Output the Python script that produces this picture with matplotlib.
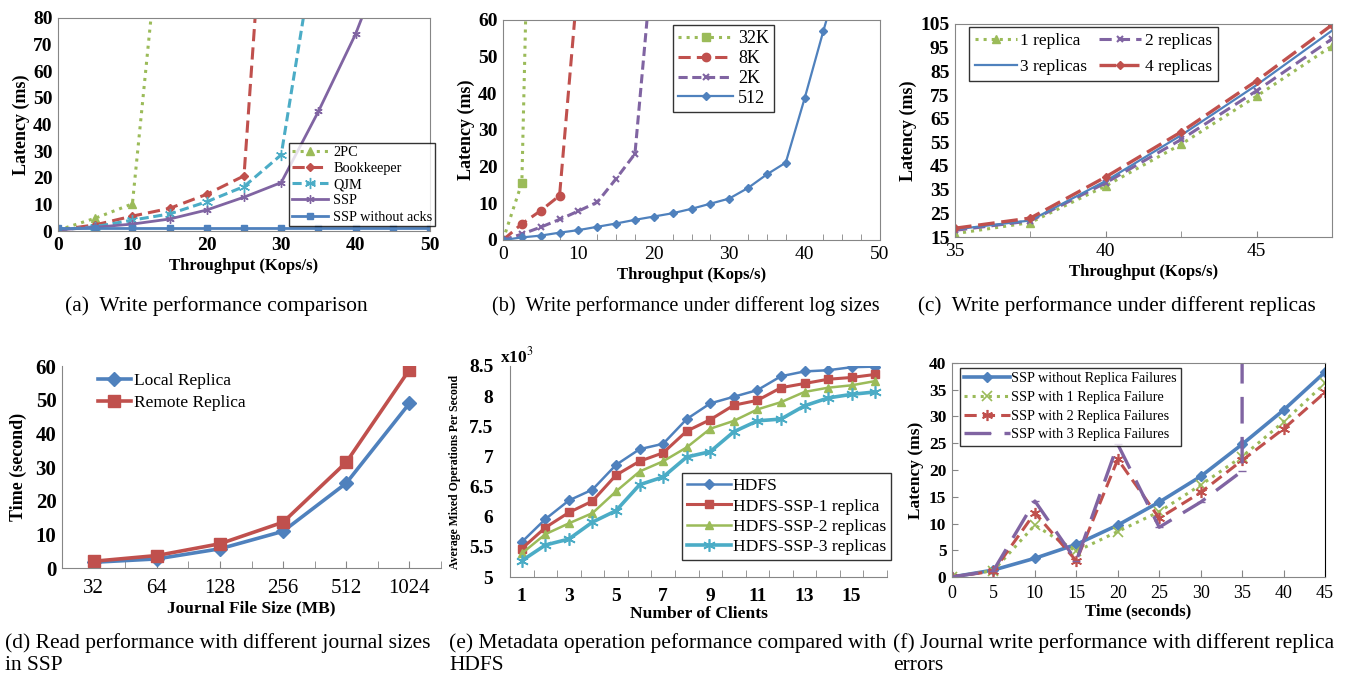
import matplotlib
matplotlib.use('Agg')
import matplotlib.pyplot as plt
import numpy as np

plt.rcParams['font.family'] = ['Liberation Serif', 'DejaVu Serif']
plt.rcParams['mathtext.fontset'] = 'stix'

W, H = 1350, 678
BLUE = '#4F81BD'
RED = '#C0504D'
GREEN = '#9BBB59'
PURPLE = '#8064A2'
CYAN = '#4BACC6'
GRAY = '#868686'
AST = (6, 2, 0)  # asterisk marker

# ---- (a) write performance comparison
a_x = [0, 5, 10, 15, 20, 25, 30, 35, 40, 45, 50]
a_2pc = [0.3, 4.8, 10.2, 150]
a_bookkeeper = [0.4, 2.3, 5.6, 8.5, 13.8, 20.7, 220]
a_qjm = [0.4, 1.6, 4.1, 6.4, 11.0, 16.7, 28.6, 115]
a_ssp = [0.4, 1.4, 2.6, 4.5, 7.9, 12.7, 18.2, 44.9, 74.0, 110]
a_noack = [1.0, 1.0, 1.0, 1.0, 1.0, 1.0, 1.0, 1.0, 1.0, 1.0, 1.0]

# ---- (b) different log sizes
b_x = [0, 2.5, 5, 7.5, 10, 12.5, 15, 17.5, 20, 22.5, 25, 27.5, 30, 32.5, 35, 37.5, 40, 42.5, 45]
b_32k = [0, 15.6, 238]
b_8k = [0, 4.4, 8.0, 12.1, 72]
b_2k = [0, 1.6, 3.5, 5.6, 7.9, 10.3, 16.7, 23.5, 80.5]
b_512 = [0, 0.7, 1.2, 2.0, 2.7, 3.6, 4.5, 5.5, 6.4, 7.3, 8.5, 9.9, 11.3, 14.2, 17.9, 21.1, 38.6, 57.1, 75]

# ---- (c) different replicas
c_x = [35, 37.5, 40, 42.5, 45, 47.5]
c_r1 = [16.4, 21.1, 36.6, 54.2, 74.5, 95.7]
c_r2 = [17.8, 21.8, 37.9, 56.2, 76.8, 98.7]
c_r3 = [18.2, 22.0, 38.7, 58.0, 79.2, 102.2]
c_r4 = [18.7, 23.0, 40.4, 59.4, 81.0, 104.6]

# ---- (d) journal sizes
d_sizes = ['32', '64', '128', '256', '512', '1024']
d_local = [1.7, 2.7, 5.7, 10.9, 25.2, 48.9]
d_remote = [2.0, 3.7, 7.2, 13.6, 31.4, 58.9]

# ---- (e) metadata ops (x10^3)
e_clients = list(range(1, 17))
e_hdfs = [5.58, 5.96, 6.27, 6.45, 6.86, 7.12, 7.21, 7.62, 7.88, 7.99, 8.10, 8.33, 8.41, 8.43, 8.48, 8.49]
e_ssp1 = [5.47, 5.82, 6.07, 6.26, 6.69, 6.92, 7.06, 7.42, 7.61, 7.85, 7.93, 8.14, 8.21, 8.28, 8.31, 8.36]
e_ssp2 = [5.39, 5.71, 5.89, 6.06, 6.42, 6.75, 6.92, 7.15, 7.46, 7.59, 7.78, 7.90, 8.07, 8.14, 8.18, 8.25]
e_ssp3 = [5.27, 5.53, 5.63, 5.91, 6.10, 6.53, 6.66, 6.99, 7.08, 7.41, 7.59, 7.62, 7.84, 7.97, 8.03, 8.07]

# ---- (f) replica errors
f_t = [0, 5, 10, 15, 20, 25, 30, 35, 40, 45]
f_none = [0, 1.3, 3.5, 6.1, 9.7, 14.0, 18.8, 24.8, 31.2, 38.3]
f_one = [0, 1.2, 9.7, 4.8, 8.5, 12.2, 17.2, 22.5, 29.0, 36.2]
f_two = [0, 1.1, 12.0, 3.0, 22.0, 11.0, 15.8, 21.8, 27.7, 34.5]
f_three_t = [0, 5, 10, 15, 20, 25, 30, 35, 35]
f_three = [0, 1.2, 14.2, 3.0, 24.8, 9.3, 14.0, 19.8, 200]

fig = plt.figure(figsize=(13.5, 6.78), dpi=100)


def box(x0, x1, yt, yb):
    # pixel box -> axes
    return fig.add_axes([x0 / W, 1 - yb / H, (x1 - x0) / W, (yb - yt) / H])


def anchor(ax, x, y):
    p = ax.get_position()
    return ((x / W - p.x0) / p.width, ((1 - y / H) - p.y0) / p.height)


def style(ax, spines=('left', 'bottom', 'top', 'right'), col=GRAY, size=14):
    for s in ax.spines:
        ax.spines[s].set_visible(s in spines)
        ax.spines[s].set_color(col)
    ax.tick_params(direction='in', length=4, color=GRAY, labelsize=size, pad=4)
    for lab in ax.get_xticklabels() + ax.get_yticklabels():
        lab.set_fontweight('bold')


def boxed(lg):
    lg.get_frame().set_edgecolor('black')
    lg.get_frame().set_linewidth(1.0)


# ================= (a)
ax = box(58, 430, 18, 231)
ax.plot(a_x[:4], a_2pc, ':', color=GREEN, lw=2.2, marker='^', ms=6)
ax.plot(a_x[:7], a_bookkeeper, '--', color=RED, lw=2.2, marker='D', ms=4, dashes=(4, 2))
ax.plot(a_x[:8], a_qjm, '--', color=CYAN, lw=2.2, marker=AST, ms=8, dashes=(3, 1.5))
ax.plot(a_x[:10], a_ssp, '-', color=PURPLE, lw=2.0, marker=AST, ms=6)
ax.plot(a_x, a_noack, '-', color=BLUE, lw=2.0, marker='s', ms=4)
ax.set_xlim(0, 50)
ax.set_ylim(0, 80)
ax.set_xticks(range(0, 51, 10))
ax.set_yticks(range(0, 81, 10))
style(ax)
ax.tick_params(length=0)
ax.set_xlabel('Throughput (Kops/s)', fontsize=12, fontweight='bold', labelpad=3)
ax.set_ylabel('Latency (ms)', fontsize=13, fontweight='bold', labelpad=2)
lg = ax.legend(['2PC', 'Bookkeeper', 'QJM', 'SSP', 'SSP without acks'], loc='upper left',
               bbox_to_anchor=anchor(ax, 289, 143), fontsize=10.3, frameon=True, fancybox=False,
               borderpad=0.2, labelspacing=0.22, handlelength=2.5, handletextpad=0.4, borderaxespad=0)
boxed(lg)

# ================= (b)
ax = box(503, 880, 20, 240)
ax.plot(b_x[:3], b_32k, ':', color=GREEN, lw=2.2, marker='s', ms=6)
ax.plot(b_x[:5], b_8k, '--', color=RED, lw=2.2, marker='o', ms=6, dashes=(4, 2))
ax.plot(b_x[:9], b_2k, '--', color=PURPLE, lw=2.2, marker='x', ms=5, mew=1.5, dashes=(3, 1.5))
ax.plot(b_x, b_512, '-', color=BLUE, lw=1.6, marker='D', ms=4)
ax.set_xlim(0, 50)
ax.set_ylim(0, 60)
ax.set_xticks(range(0, 51, 10))
ax.set_xticks(np.arange(0, 50.1, 2.5), minor=True)
ax.set_yticks(range(0, 61, 10))
style(ax)
for lab in ax.get_xticklabels():
    lab.set_fontweight('normal')
ax.tick_params(axis='y', length=0)
ax.tick_params(axis='x', which='major', length=0)
ax.tick_params(axis='x', which='minor', direction='in', length=4, color=GRAY)
ax.set_xlabel('Throughput (Kops/s)', fontsize=12, fontweight='bold', labelpad=3)
ax.set_ylabel('Latency (ms)', fontsize=13, fontweight='bold', labelpad=2)
lg = ax.legend(['32K', '8K', '2K', '512'], loc='upper left',
               bbox_to_anchor=anchor(ax, 673, 25), fontsize=13, frameon=True, fancybox=False,
               borderpad=0.3, labelspacing=0.15, handlelength=3.0, handletextpad=0.3, borderaxespad=0)
boxed(lg)

# ================= (c)
ax = box(955, 1332, 24, 237)
ax.plot(c_x, c_r1, ':', color=GREEN, lw=2.2, marker='^', ms=6, label='1 replica')
ax.plot(c_x, c_r2, '--', color=PURPLE, lw=2.2, marker='x', ms=5, mew=1.5, dashes=(4, 2), label='2 replicas')
ax.plot(c_x, c_r3, '-', color=BLUE, lw=1.6, label='3 replicas')
ax.plot(c_x, c_r4, '--', color=RED, lw=2.4, marker='D', ms=4, dashes=(5, 2), label='4 replicas')
ax.set_xlim(35, 47.5)
ax.set_ylim(15, 105)
ax.set_xticks([35, 40, 45])
ax.set_xticks(c_x, minor=True)
ax.set_yticks(range(15, 106, 10))
style(ax)
for lab in ax.get_xticklabels():
    lab.set_fontweight('normal')
ax.tick_params(axis='y', length=0)
ax.tick_params(axis='x', which='major', length=4)
ax.tick_params(axis='x', which='minor', direction='in', length=4, color=GRAY)
ax.set_xlabel('Throughput (Kops/s)', fontsize=12, fontweight='bold', labelpad=3)
ax.set_ylabel('Latency (ms)', fontsize=13, fontweight='bold', labelpad=2)
h, l = ax.get_legend_handles_labels()
lg = ax.legend([h[0], h[2], h[1], h[3]], [l[0], l[2], l[1], l[3]], ncol=2, loc='upper left',
               bbox_to_anchor=anchor(ax, 969, 27), fontsize=12.5, frameon=True, fancybox=False,
               borderpad=0.35, labelspacing=0.55, handlelength=2.4, handletextpad=0.2,
               columnspacing=0.7, borderaxespad=0)
boxed(lg)

# ================= (d)
ax = box(62, 441, 366, 568)
pos = np.arange(len(d_sizes))
ax.plot(pos, d_local, '-', color=BLUE, lw=2.6, marker='D', ms=7, label='Local Replica')
ax.plot(pos, d_remote, '-', color=RED, lw=2.6, marker='s', ms=8, label='Remote Replica')
ax.set_xlim(-0.5, 5.5)
ax.set_ylim(0, 60)
ax.set_xticks(pos)
ax.set_xticklabels(d_sizes)
ax.set_xticks(np.arange(-0.5, 5.6, 1), minor=True)
ax.set_yticks(range(0, 61, 10))
style(ax, spines=('left', 'bottom'), size=15)
ax.tick_params(axis='y', length=0)
ax.tick_params(axis='x', which='both', direction='in', length=5, color=GRAY, pad=8)
for lab in ax.get_xticklabels():
    lab.set_fontweight('normal')
ax.set_xlabel('Journal File Size (MB)', fontsize=12.5, fontweight='bold', labelpad=2)
ax.set_ylabel('Time (second)', fontsize=13, fontweight='bold', labelpad=6)
ax.legend(loc='upper left', bbox_to_anchor=anchor(ax, 98, 373), fontsize=12.5, frameon=False,
          borderpad=0, labelspacing=0.35, handlelength=1.9, handletextpad=0.2, borderaxespad=0)

# ================= (e)
ax = box(510, 887, 366, 577)
ax.plot(e_clients, e_hdfs, '-', color=BLUE, lw=1.8, marker='D', ms=5, label='HDFS')
ax.plot(e_clients, e_ssp1, '-', color=RED, lw=2.2, marker='s', ms=6, label='HDFS-SSP-1 replica')
ax.plot(e_clients, e_ssp2, '-', color=GREEN, lw=1.8, marker='^', ms=6, label='HDFS-SSP-2 replicas')
ax.plot(e_clients, e_ssp3, '-', color=CYAN, lw=2.6, marker=AST, ms=9, mew=1.2, label='HDFS-SSP-3 replicas')
ax.set_xlim(0.5, 16.5)
ax.set_ylim(5, 8.5)
ax.set_xticks(range(1, 17, 2))
ax.set_xticks(np.arange(0.5, 16.6, 1), minor=True)
ax.set_yticks([5, 5.5, 6, 6.5, 7, 7.5, 8, 8.5])
ax.set_yticklabels(['5', '5.5', '6', '6.5', '7', '7.5', '8', '8.5'])
style(ax, spines=('left', 'bottom'))
ax.tick_params(axis='y', length=0, pad=12)
ax.tick_params(axis='x', which='major', length=0, pad=8)
ax.tick_params(axis='x', which='minor', direction='in', length=5, color=GRAY)
ax.set_xlabel('Number of Clients', fontsize=12.6, fontweight='bold', labelpad=1)
ax.set_ylabel('Average Mixed Operations Per Second', fontsize=8.5, fontweight='bold', labelpad=6)
ax.text(-0.027, 1.0, 'x10$^3$', transform=ax.transAxes, fontsize=12.5, fontweight='bold',
        ha='left', va='bottom')
lg = ax.legend(loc='upper left', bbox_to_anchor=anchor(ax, 682, 473), fontsize=12.6, frameon=True,
               fancybox=False, borderpad=0.3, labelspacing=0.22, handlelength=2.5,
               handletextpad=0.1, borderaxespad=0)
boxed(lg)

# ================= (f)
ax = box(952, 1325, 363, 577)
ax.plot(f_t, f_none, '-', color=BLUE, lw=2.6, marker='D', ms=5, label='SSP without Replica Failures')
ax.plot(f_t, f_one, ':', color=GREEN, lw=2.2, marker='x', ms=7, mew=1.2, label='SSP with 1 Replica Failure')
ax.plot(f_t, f_two, '--', color=RED, lw=2.2, marker=AST, ms=8, mew=1.2, dashes=(4, 2),
        label='SSP with 2 Replica Failures')
ax.plot(f_three_t, f_three, '--', color=PURPLE, lw=2.4, marker='_', ms=6, dashes=(8, 4),
        label='SSP with 3 Replica Failures')
ax.set_xlim(0, 45)
ax.set_ylim(0, 40)
ax.set_xticks(range(0, 46, 5))
ax.set_yticks(range(0, 41, 5))
style(ax, size=12.5)
ax.spines['right'].set_color('black')
ax.tick_params(axis='y', direction='in', length=4)
ax.tick_params(axis='x', direction='in', length=5, pad=6, labelsize=13)
for lab in ax.get_xticklabels():
    lab.set_fontweight('normal')
ax.set_xlabel('Time (seconds)', fontsize=12, fontweight='bold', labelpad=1)
ax.set_ylabel('Latency (ms)', fontsize=12.5, fontweight='bold', labelpad=4)
lg = ax.legend(loc='upper left', bbox_to_anchor=anchor(ax, 960, 368), fontsize=10.2, frameon=True,
               fancybox=False, borderpad=0.3, labelspacing=0.4, handlelength=3.2,
               handletextpad=0.1, borderaxespad=0)
boxed(lg)

# ---- captions
fig.text(65 / W, 1 - 306 / H, '(a)  Write performance comparison', fontsize=15.5, va='center')
fig.text(492 / W, 1 - 306 / H, '(b)  Write performance under different log sizes', fontsize=14.6, va='center')
fig.text(918 / W, 1 - 306 / H, '(c)  Write performance under different replicas', fontsize=15.3, va='center')
capfs = 15.5
fig.text(5 / W, 1 - 643 / H, '(d) Read performance with different journal sizes', fontsize=capfs, va='center')
fig.text(5 / W, 1 - 666 / H, 'in SSP', fontsize=capfs, va='center')
fig.text(449 / W, 1 - 643 / H, '(e) Metadata operation peformance compared with', fontsize=capfs, va='center')
fig.text(449 / W, 1 - 666 / H, 'HDFS', fontsize=capfs, va='center')
fig.text(893 / W, 1 - 643 / H, '(f) Journal write performance with different replica', fontsize=capfs, va='center')
fig.text(893 / W, 1 - 666 / H, 'errors', fontsize=capfs, va='center')

fig.savefig('out.png', dpi=100)
